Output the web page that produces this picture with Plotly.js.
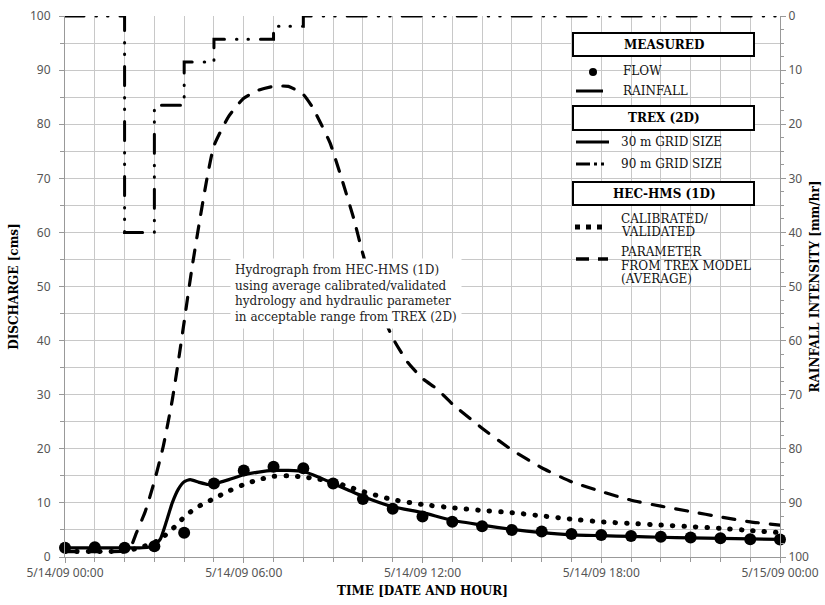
<!DOCTYPE html>
<html><head><meta charset="utf-8">
<script src="https://cdn.plot.ly/plotly-3.0.1.min.js"></script>
<style>body{margin:0;background:#fff}#chart{width:825px;height:605px}
.scatterlayer .js-line{stroke-linecap:round !important;}</style>
</head><body><div id="chart"></div>
<script>
// ---- data (hours since 5/14/09 00:00) ----
const flowHours = [0,1,2,3,4,5,6,7,8,9,10,11,12,13,14,15,16,17,18,19,20,21,22,23,24];
const flowMeasured = [1.7,1.8,1.7,2.0,4.5,13.6,16.0,16.7,16.4,13.6,10.7,8.9,7.5,6.5,5.7,5.0,4.7,4.25,4.05,3.9,3.75,3.6,3.45,3.3,3.25];

const rainHours = [0,1,2,3,4,5,6,7,8,24];
const rainIntensity = [0,0,40,16.5,8.5,4.3,4.3,1.9,0,0];

const trex30Hours = [0,1,2,2.5,2.8,3.0,3.2,3.4,3.6,3.8,4.0,4.2,4.5,4.8,5.0,5.5,6.0,6.5,7.0,7.5,8.0,8.5,9.0,9.5,10,11,12,13,14,15,16,17,18,19,20,21,22,23,24];
const trex30Q = [1.7,1.7,1.7,1.7,1.8,2.1,3.3,6.5,10.0,12.5,13.9,14.3,13.8,13.4,13.5,14.3,15.2,15.7,16.0,16.0,15.8,14.8,13.6,12.4,11.2,9.3,8.2,6.8,5.9,5.1,4.5,4.1,3.95,3.8,3.65,3.55,3.45,3.35,3.25];

const hmsCalHours = [0,1,2,2.5,3.0,3.25,3.5,3.75,4.0,4.3,4.6,5.0,5.5,6.0,6.5,7.0,7.5,8.0,8.5,9,9.5,10,11,12,13,14,15,16,17,18,19,20,21,22,23,24];
const hmsCalQ = [1.0,1.0,1.1,1.7,2.7,3.5,4.7,5.9,7.4,8.7,9.7,10.8,12.2,13.4,14.3,14.9,15.0,14.8,14.4,13.9,13.0,12.1,10.6,9.7,9.1,8.6,8.2,7.6,7.0,6.5,6.2,5.9,5.6,5.3,4.9,4.5];

const hmsParHours = [0,1,2,2.2,2.4,2.7,3.0,3.3,3.6,3.8,4.0,4.25,4.5,4.75,5.0,5.5,6.0,6.5,7.0,7.5,8.0,8.3,8.6,8.9,9.3,9.7,10,10.5,11,11.5,12,12.5,13,14,15,16,17,18,19,20,21,22,23,24];
const hmsParQ = [1.0,1.0,1.1,1.8,4.5,8.5,14,20.5,29,36,43.5,53,61.5,69.5,76,81.5,84.8,86.3,87,87,85.5,83.2,80,76.5,69.7,62.4,56,47,40.5,36,33,31,28.3,23.8,19.8,16.5,13.9,12.1,10.5,9.4,8.4,7.4,6.5,5.9];

const xTickVals = [0,6,12,18,24];
const xTickText = ['5/14/09 00:00','5/14/09 06:00','5/14/09 12:00','5/14/09 18:00','5/15/09 00:00'];

// ---- layout helpers ----
const W = 825, H = 605, L = 65, R = 780, T = 16, B = 557;
const px = x => (x - L) / (R - L);
const py = y => (B - y) / (B - T);
const SERIF = '"DejaVu Serif", "Liberation Serif", serif';
const SANS = '"Noto Sans", "DejaVu Sans", sans-serif';
const RAIN_DASH = '19px,12px,0.5px,11px,0.5px,12px';
const PAR_DASH = '12px,12px';
const CAL_DASH = '0.5px,11px';

const traces = [
  {x: hmsParHours, y: hmsParQ, type:'scatter', mode:'lines', line:{color:'#000', width:3.2, dash:PAR_DASH, shape:'spline', smoothing:0.5}, hoverinfo:'skip'},
  {x: hmsCalHours, y: hmsCalQ, type:'scatter', mode:'lines', line:{color:'#000', width:5, dash:CAL_DASH, shape:'spline', smoothing:0.5}, hoverinfo:'skip'},
  {x: trex30Hours, y: trex30Q, type:'scatter', mode:'lines', line:{color:'#000', width:3.2, shape:'spline', smoothing:0.5}, hoverinfo:'skip'},
  {x: flowHours, y: flowMeasured, type:'scatter', mode:'markers', marker:{color:'#000', size:12}, cliponaxis:false},
  {x: rainHours, y: rainIntensity, type:'scatter', mode:'lines', yaxis:'y2', line:{color:'#000', width:3, dash:RAIN_DASH, shape:'hv'}},
];

const shapes = [];
const annotations = [];
// legend white background
shapes.push({type:'rect', xref:'paper', yref:'paper', x0:px(556), x1:px(770), y0:py(24), y1:py(292), fillcolor:'#fff', line:{width:0}, layer:'below'});
// header boxes
const headers = [['MEASURED',33,56],['TREX (2D)',106,130],['HEC-HMS (1D)',182,205]];
headers.forEach(h => {
  shapes.push({type:'rect', xref:'paper', yref:'paper', x0:px(573), x1:px(754), y0:py(h[1]), y1:py(h[2]), fillcolor:'#fff', line:{color:'#000', width:2}});
  annotations.push({xref:'paper', yref:'paper', x:px(664), y:py((h[1]+h[2])/2), text:'<b>'+h[0]+'</b>', showarrow:false, xanchor:'center', yanchor:'middle', font:{family:SERIF, size:12, color:'#000'}});
});
// legend sample lines
const seg = (x0,x1,y,w,dash) => shapes.push({type:'line', xref:'paper', yref:'paper', x0:px(x0), x1:px(x1), y0:py(y), y1:py(y), line:{color:'#000', width:w, dash:dash||'solid'}});
shapes.push({type:'circle', xref:'paper', yref:'paper', x0:px(589), x1:px(597), y0:py(68), y1:py(76), fillcolor:'#000', line:{width:0}});
seg(576,603,91,3);
seg(576,609,142,3);
seg(576,590,164,3); seg(594,597,164,3); seg(601,604,164,3);
seg(575,580,227,5); seg(586,591,227,5); seg(597,602,227,5);
seg(576,589,259,3.5); seg(598,608,259,3.5);
const legText = (x,y,t) => annotations.push({xref:'paper', yref:'paper', x:px(x), y:py(y), text:t, showarrow:false, xanchor:'left', yanchor:'middle', align:'left', font:{family:SERIF, size:12, color:'#111'}});
legText(621,71,'FLOW');
legText(621,91,'RAINFALL');
legText(619,142,'30 m GRID SIZE');
legText(619,164,'90 m GRID SIZE');
legText(619,219,'CALIBRATED/');
legText(619,232,'VALIDATED');
legText(619,252,'PARAMETER');
legText(619,266,'FROM TREX MODEL');
legText(619,279,'(AVERAGE)');

// in-plot note
annotations.push({xref:'paper', yref:'paper', x:px(230), y:py(258), xanchor:'left', yanchor:'top', align:'left', showarrow:false,
  bgcolor:'#fff', borderpad:4,
  text:'Hydrograph from HEC-HMS (1D)<br>using average calibrated/validated<br>hydrology and hydraulic parameter<br>in acceptable range from TREX (2D)',
  font:{family:SERIF, size:12, color:'#222'}});

const axTick = {family:SANS, size:12, color:'#555'};
const layout = {
  width:W, height:H, margin:{l:L, r:W-R, t:T, b:H-B},
  paper_bgcolor:'#fff', plot_bgcolor:'#fff', showlegend:false,
  xaxis:{range:[0,24], tickvals:xTickVals, ticktext:xTickText, tickfont:axTick, ticks:'outside', ticklen:5, tickcolor:'#999',
    showgrid:true, gridcolor:'#c8c8c8', zeroline:false, showline:true, linecolor:'#999',
    minor:{dtick:1, showgrid:true, gridcolor:'#c8c8c8', ticks:'outside', ticklen:4, tickcolor:'#999'},
    title:{text:'<b>TIME [DATE AND HOUR]</b>', font:{family:SERIF, size:12, color:'#000'}, standoff:6}},
  yaxis:{range:[0,100], dtick:10, tickfont:axTick, ticks:'outside', ticklen:5, tickcolor:'#999', ticklabelstandoff:6,
    showgrid:true, gridcolor:'#c8c8c8', zeroline:false, showline:true, linecolor:'#999',
    minor:{dtick:5, showgrid:true, gridcolor:'#c8c8c8', ticks:'outside', ticklen:4, tickcolor:'#999'},
    title:{text:'<b>DISCHARGE [cms]</b>', font:{family:SERIF, size:12, color:'#000'}, standoff:8}},
  yaxis2:{overlaying:'y', side:'right', range:[100,0], dtick:10, tickfont:axTick, ticks:'outside', ticklen:5, tickcolor:'#999',
    showgrid:false, zeroline:false, showline:true, linecolor:'#999',
    minor:{dtick:2.5, ticks:'outside', ticklen:3, tickcolor:'#999'},
    title:{text:'<b>RAINFALL INTENSITY [mm/hr]</b>', font:{family:SERIF, size:12, color:'#000'}, standoff:2}},
  shapes:shapes, annotations:annotations
};
Plotly.newPlot('chart', traces, layout, {displayModeBar:false, staticPlot:true});
</script></body></html>
